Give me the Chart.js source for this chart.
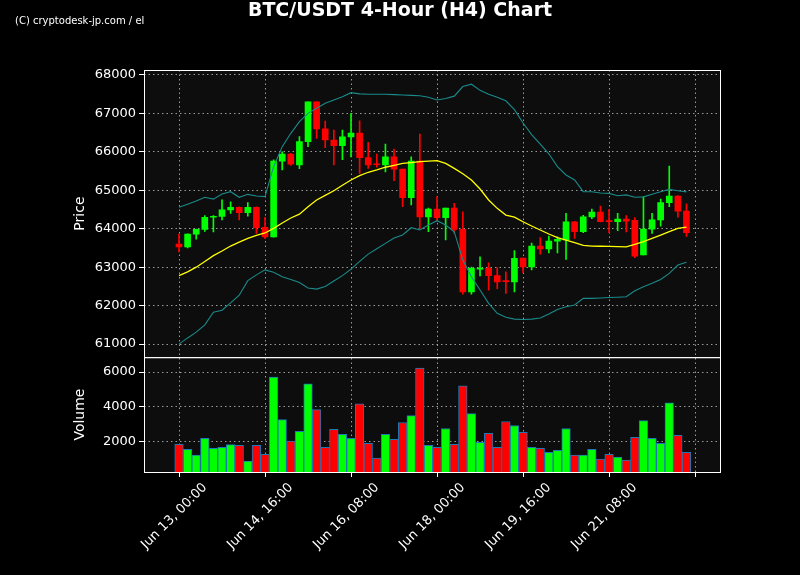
<!DOCTYPE html>
<html><head><meta charset="utf-8">
<script src="https://cdn.jsdelivr.net/npm/chart.js@4"></script>
<style>html,body{margin:0;padding:0;background:#000;}#w{width:800px;height:575px;}</style>
</head><body><div id="w"><canvas id="c" width="800" height="575"></canvas></div>
<script>
const tickLabels = ["Jun 13, 00:00","Jun 14, 16:00","Jun 16, 08:00","Jun 18, 00:00","Jun 19, 16:00","Jun 21, 08:00",""];
const opens  = [63600,63530,63860,63985,64300,64320,64490,64560,64420,64560,64040,63790,65760,65940,65660,66265,67300,66600,66310,66160,66390,66490,65850,65680,65660,65870,65550,64810,65760,64310,64510,64290,64540,63985,62360,62950,62970,62780,62640,62620,63240,63010,63550,63475,63680,63710,64180,63925,64310,64435,64200,64185,64250,64220,63320,63990,64230,64680,64850,64460];
const highs  = [63860,63870,63990,64340,64340,64750,64700,64570,64680,64570,64300,65790,66000,65960,66400,67300,67300,66800,66570,66570,67000,66810,66250,65940,66200,66070,65550,65874,66465,64540,64834,64540,64660,64443,63004,63270,63115,62990,62880,63430,63240,63630,63770,63810,63790,64400,64190,64350,64510,64590,64505,64400,64340,64290,64833,64400,64770,65632,64860,64650];
const lows   = [63400,63500,63730,63930,63920,64230,64400,64230,64330,63880,63740,63780,65530,65650,65560,66136,66353,66110,65660,65800,65870,65440,65570,65600,65480,65250,64573,64617,64011,63923,64200,63707,63880,62300,62300,62770,62400,62440,62320,62360,62856,62930,63340,63370,63370,63205,63750,63900,64260,64180,63900,63950,63920,63250,63320,63880,64070,64573,64300,63800];
const closes = [63530,63860,63985,64300,64320,64490,64560,64420,64560,64030,63790,65760,65940,65680,66265,67300,66600,66310,66160,66390,66490,65850,65660,65665,65870,65550,64810,65760,64310,64510,64290,64540,63985,62360,62970,62970,62780,62620,62625,63230,63010,63550,63475,63680,63725,64180,63925,64310,64435,64185,64185,64250,64200,63290,63990,64230,64680,64850,64460,63900];
const volumes = [1829,1543,1200,2171,1600,1657,1810,1771,857,1771,1257,5714,3257,2019,2571,5314,3829,1657,2686,2400,2171,4171,1886,1029,2400,2114,3086,3486,6229,1771,1657,2743,1829,5200,3600,1943,2457,1657,3143,2914,2514,1657,1600,1371,1486,2743,1200,1200,1543,971,1257,1086,914,2229,3200,2171,1886,4229,2343,1371];
const bbMid = [62780,62880,63000,63150,63300,63420,63550,63650,63750,63830,63890,64010,64150,64280,64380,64573,64750,64870,64990,65130,65268,65380,65470,65530,65600,65650,65700,65720,65744,65760,65770,65700,65572,65430,65268,65034,64748,64530,64357,64300,64183,64071,63967,63863,63767,63707,63637,63569,63550,63545,63540,63535,63530,63595,63663,63750,63837,63923,64010,64045];
const bbUp = [64557,64640,64720,64818,64770,64904,64964,64818,64895,64852,64835,65615,66136,66483,66785,67003,67133,67263,67350,67436,67540,67510,67500,67500,67500,67490,67480,67470,67460,67420,67350,67390,67450,67700,67760,67600,67500,67420,67330,67100,66750,66450,66200,65950,65615,65398,65268,64964,64964,64930,64920,64860,64880,64818,64830,64900,64964,65025,64990,64960];
const bbLow = [61000,61160,61310,61500,61830,61880,62070,62270,62650,62800,62930,62870,62750,62680,62600,62460,62430,62500,62640,62780,62950,63150,63340,63480,63620,63760,63837,64027,63967,64097,64210,64097,63923,63186,62752,62405,62060,61800,61700,61650,61640,61650,61680,61780,61900,61970,62015,62190,62190,62200,62210,62220,62230,62388,62492,62580,62680,62840,63056,63127];

const colors = closes.map((c,i)=> c >= opens[i] ? '#00ff00' : '#ff0000');
const idx = closes.map((c,i)=>i);

const borderPlugin = {
  id:'frames',
  afterDraw(ch){
    const c = ch.ctx, x = ch.scales.x, yp = ch.scales.y, yv = ch.scales.yv;
    c.save(); c.strokeStyle='#ffffff'; c.lineWidth=1;
    c.strokeRect(x.left+0.5, yp.top+0.5, x.right-x.left, yp.bottom-yp.top);
    c.strokeRect(x.left+0.5, yv.top+0.5, x.right-x.left, yv.bottom-yv.top);
    c.fillStyle='#ffffff'; c.font='bold 19px "DejaVu Sans"'; c.textAlign='center'; c.textBaseline='middle';
    c.fillText('BTC/USDT 4-Hour (H4) Chart', 400, 11);
    c.font='10px "DejaVu Sans"'; c.textAlign='left';
    c.fillText('(C) cryptodesk-jp.com / el', 15, 21);
    c.restore();
  },
  beforeDraw(ch){
    const c = ch.ctx, a = ch.chartArea;
    c.save(); c.fillStyle='#000'; c.fillRect(0,0,ch.width,ch.height);
    c.fillStyle='#0d0d0d'; c.fillRect(a.left,a.top,a.right-a.left,a.bottom-a.top); c.restore();
  }
};

const grid = {color:'rgba(190,190,190,0.8)', drawTicks:true, tickColor:'#ffffff', tickLength:5, offset:false};
const border = {display:false, dash:[1.5,3]};
new Chart(document.getElementById('c'), {
  type:'bar',
  data:{datasets:[
    {type:'line', label:'mid', data:idx.map(i=>({x:i,y:bbMid[i]})), borderColor:'#ffff00', borderWidth:1.3, pointRadius:0, yAxisID:'y', order:1},
    {type:'line', label:'up', data:idx.map(i=>({x:i,y:bbUp[i]})), borderColor:'#1a8a8a', borderWidth:1.1, pointRadius:0, yAxisID:'y', order:1},
    {type:'line', label:'low', data:idx.map(i=>({x:i,y:bbLow[i]})), borderColor:'#1a8a8a', borderWidth:1.1, pointRadius:0, yAxisID:'y', order:1},
    {label:'wick', data:idx.map(i=>({x:i,y:[lows[i],highs[i]]})), backgroundColor:colors, barThickness:1, yAxisID:'y', order:3, grouped:false},
    {label:'body', data:idx.map(i=>({x:i,y:[opens[i],closes[i]]})), backgroundColor:colors, barThickness:6, minBarLength:1, yAxisID:'y', order:2, grouped:false},
    {label:'vol', data:idx.map(i=>({x:i,y:volumes[i]})), backgroundColor:colors, borderColor:'#1f77b4', borderWidth:1, barThickness:8.6, yAxisID:'yv', order:2, grouped:false}
  ]},
  options:{
    responsive:false, animation:false,
    layout:{padding:{top:70,right:80,left:68,bottom:0}},
    plugins:{legend:{display:false}, tooltip:{enabled:false}},
    scales:{
      x:{type:'linear', min:-4.07, max:62.9, offset:false,
        afterBuildTicks(s){ s.ticks=[0,10,20,30,40,50,60].map(v=>({value:v})); },
        afterFit(s){ s.height=103; },
        ticks:{color:'#ffffff', font:{size:13,family:'DejaVu Sans'}, maxRotation:45, minRotation:45, autoSkip:false, labelOffset:26,
          callback:(v)=>tickLabels[Math.round(v/10)]},
        grid:grid, border:border},
      yv:{type:'linear', position:'left', stack:'s', stackWeight:1, min:230, max:6860, offset:false,
        afterBuildTicks(s){ s.ticks=[2000,4000,6000].map(v=>({value:v})); },
        afterFit(s){ s.width=76; },
        ticks:{color:'#ffffff', font:{size:13,family:'DejaVu Sans'}, callback:v=>String(v)},
        title:{display:true,text:'Volume',color:'#ffffff',font:{size:14,family:'DejaVu Sans'}},
        grid:grid, border:border},
      y:{type:'linear', position:'left', stack:'s', stackWeight:2.5, min:60660, max:68130, offset:false,
        afterBuildTicks(s){ s.ticks=[61000,62000,63000,64000,65000,66000,67000,68000].map(v=>({value:v})); },
        afterFit(s){ s.width=76; },
        ticks:{color:'#ffffff', font:{size:13,family:'DejaVu Sans'}, callback:v=>String(v)},
        title:{display:true,text:'Price',color:'#ffffff',font:{size:14,family:'DejaVu Sans'}},
        grid:grid, border:border}
    }
  },
  plugins:[borderPlugin]
});
</script></body></html>
